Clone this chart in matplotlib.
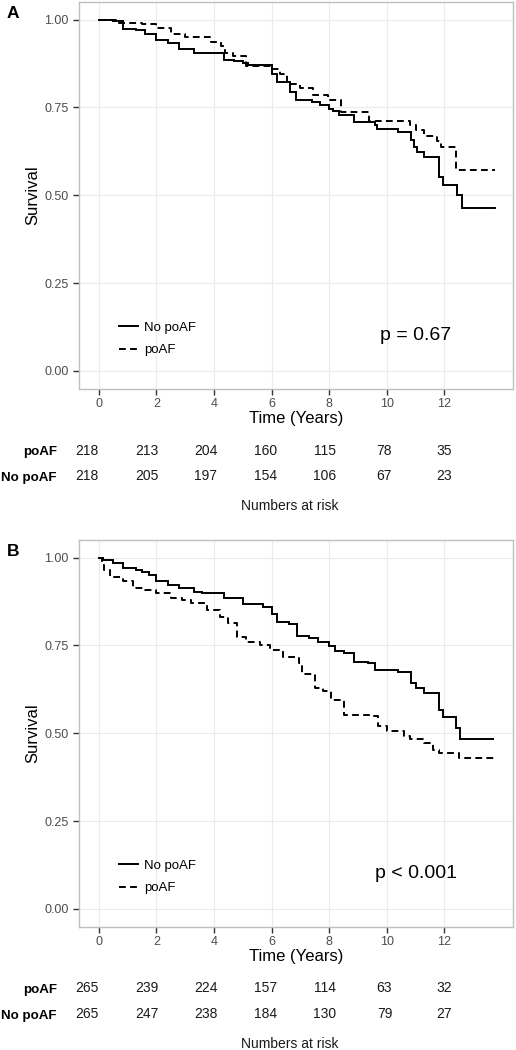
import matplotlib
matplotlib.use('Agg')
import matplotlib.pyplot as plt
from matplotlib.lines import Line2D

plt.rcParams['font.family'] = ['Liberation Sans', 'DejaVu Sans']

W, H = 516, 1050

# ---- data ----
risk_times = [0, 2, 4, 6, 8, 10, 12]

# panel A
a_no_t = [0, 0.5, 0.85, 1.3, 1.6, 2.0, 2.4, 2.8, 3.3, 4.35, 4.7, 5.0, 5.2, 6.0, 6.2, 6.65, 6.85,
          7.4, 7.7, 8.0, 8.15, 8.35, 8.85, 9.6, 9.65, 10.4, 10.85, 10.95, 11.05, 11.3, 11.8, 11.95,
          12.45, 12.6, 13.75]
a_no_s = [1.0, 0.995, 0.974, 0.97, 0.96, 0.942, 0.932, 0.915, 0.905, 0.886, 0.882, 0.875, 0.87,
          0.846, 0.823, 0.794, 0.772, 0.766, 0.756, 0.745, 0.74, 0.727, 0.708, 0.70, 0.689, 0.679,
          0.657, 0.637, 0.624, 0.609, 0.552, 0.529, 0.50, 0.464, 0.464]
a_po_t = [0, 0.6, 1.5, 2.0, 2.5, 3.0, 3.9, 4.25, 4.4, 4.65, 5.1, 6.0, 6.3, 6.55, 7.0, 7.45,
          7.95, 8.4, 9.4, 10.8, 11.0, 11.3, 11.75, 11.9, 12.4, 13.75]
a_po_s = [1.0, 0.99, 0.986, 0.976, 0.958, 0.95, 0.936, 0.926, 0.905, 0.895, 0.867, 0.858, 0.846,
          0.818, 0.805, 0.785, 0.77, 0.737, 0.712, 0.70, 0.686, 0.67, 0.655, 0.638, 0.571, 0.571]
a_risk_po = [218, 213, 204, 160, 115, 78, 35]
a_risk_no = [218, 205, 197, 154, 106, 67, 23]
a_p = 'p = 0.67'

# panel B
b_no_t = [0, 0.15, 0.5, 0.85, 1.3, 1.5, 1.75, 2.0, 2.4, 2.8, 3.3, 3.6, 4.35, 5.0, 5.7, 6.0,
          6.2, 6.6, 6.9, 7.3, 7.6, 8.0, 8.2, 8.5, 8.85, 9.35, 9.6, 10.4, 10.85, 11.0, 11.3, 11.8,
          11.95, 12.4, 12.55, 13.7]
b_no_s = [1.0, 0.992, 0.985, 0.971, 0.966, 0.96, 0.95, 0.933, 0.923, 0.912, 0.903, 0.899, 0.884,
          0.867, 0.86, 0.84, 0.818, 0.81, 0.777, 0.772, 0.761, 0.747, 0.733, 0.727, 0.704, 0.70,
          0.681, 0.673, 0.643, 0.628, 0.615, 0.567, 0.546, 0.516, 0.485, 0.485]
b_po_t = [0, 0.1, 0.2, 0.4, 0.85, 1.2, 1.6, 2.0, 2.5, 2.9, 3.2, 3.75, 4.2, 4.5, 4.8, 5.1, 5.6,
          5.95, 6.4, 6.95, 7.05, 7.5, 7.8, 8.05, 8.5, 9.4, 9.7, 10.0, 10.6, 10.8, 11.3, 11.6,
          11.8, 12.5, 13.75]
b_po_s = [1.0, 0.98, 0.964, 0.946, 0.933, 0.912, 0.907, 0.898, 0.886, 0.88, 0.87, 0.851, 0.832,
          0.813, 0.775, 0.761, 0.752, 0.737, 0.718, 0.70, 0.67, 0.63, 0.619, 0.595, 0.553, 0.549,
          0.52, 0.506, 0.491, 0.483, 0.472, 0.453, 0.444, 0.43, 0.43]
b_risk_po = [265, 239, 224, 157, 114, 63, 32]
b_risk_no = [265, 247, 238, 184, 130, 79, 27]
b_p = 'p < 0.001'

TICK_COL = '#4D4D4D'
DASH = (0, (3.5, 2.2))
LW = 1.4


def fx(px):
    return px / W


def fy(py):
    return 1 - py / H


def panel(fig, top_px, letter, no_t, no_s, po_t, po_s, risk_po, risk_no, ptext):
    left, right = 79, 513
    bottom_px = top_px + 386.5
    ax = fig.add_axes([fx(left), fy(bottom_px), (right - left) / W, (bottom_px - top_px) / H])
    ax.step(no_t, no_s, where='post', color='black', lw=LW, solid_joinstyle='miter')
    ax.step(po_t, po_s, where='post', color='black', lw=LW, linestyle=DASH)
    ax.set_xlim(-0.685, 14.385)
    ax.set_ylim(-0.05, 1.05)
    ax.set_xticks(risk_times)
    ax.set_yticks([0, 0.25, 0.5, 0.75, 1.0])
    ax.set_yticklabels(['0.00', '0.25', '0.50', '0.75', '1.00'])
    ax.grid(True, color='#EBEBEB', lw=0.8)
    ax.set_axisbelow(True)
    for s in ax.spines.values():
        s.set_color('#BFBFBF')
        s.set_linewidth(1.0)
    ax.tick_params(length=4.3, width=1.0, color='#333333', labelcolor=TICK_COL, labelsize=9)
    ax.tick_params(axis='x', pad=2.5)
    ax.tick_params(axis='y', pad=3)
    ax.set_xlabel('Time (Years)', fontsize=12, labelpad=1)
    ax.set_ylabel('Survival', fontsize=12, labelpad=3)

    handles = [Line2D([], [], color='black', lw=LW),
               Line2D([], [], color='black', lw=LW, linestyle=DASH)]
    ax.legend(handles, ['No poAF', 'poAF'], loc='center left', bbox_to_anchor=(0.092, 0.128),
              frameon=False, fontsize=9.5, handlelength=1.45, handletextpad=0.45,
              labelspacing=0.75, borderpad=0, borderaxespad=0)
    ax.text(11.0, 0.10, ptext, fontsize=14, ha='center', va='center')

    fig.text(fx(13), fy(top_px + 11), letter, fontsize=12.5, fontweight='bold',
             ha='center', va='center')

    # numbers-at-risk table
    r1, r2 = bottom_px + 62, bottom_px + 87.5
    at = fig.add_axes([fx(left), fy(r2), (right - left) / W, (r2 - r1) / H])
    at.set_xlim(-0.269, 14.32)
    at.set_ylim(0, 1)
    for s in at.spines.values():
        s.set_visible(False)
    at.set_xticks([])
    at.set_yticks([0, 1])
    at.set_yticklabels(['No poAF', 'poAF'], fontsize=9.6, fontweight='bold')
    at.tick_params(axis='y', length=0, pad=16)
    for t, n in zip(risk_times, risk_po):
        at.text(t, 1, str(n), fontsize=10, ha='center', va='center', color='#1A1A1A')
    for t, n in zip(risk_times, risk_no):
        at.text(t, 0, str(n), fontsize=10, ha='center', va='center', color='#1A1A1A')
    at.patch.set_visible(False)
    fig.text(fx(290), fy(bottom_px + 117.5), 'Numbers at risk', fontsize=10,
             ha='center', va='center', color='#1A1A1A')


fig = plt.figure(figsize=(W / 100, H / 100), dpi=100)
panel(fig, 2, 'A', a_no_t, a_no_s, a_po_t, a_po_s, a_risk_po, a_risk_no, a_p)
panel(fig, 540, 'B', b_no_t, b_no_s, b_po_t, b_po_s, b_risk_po, b_risk_no, b_p)
fig.savefig('out.png', dpi=100)
